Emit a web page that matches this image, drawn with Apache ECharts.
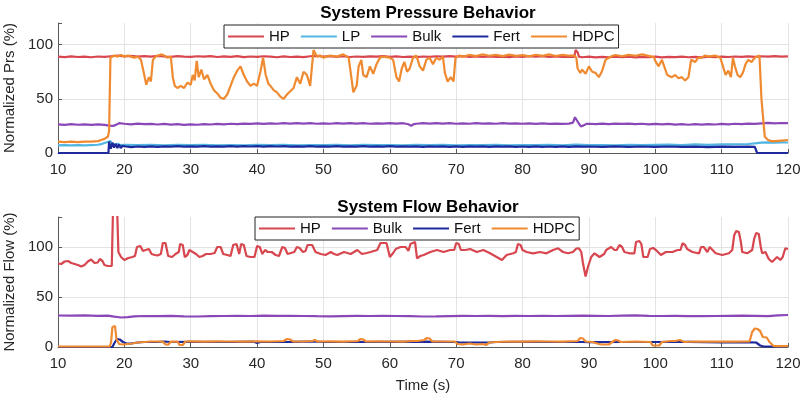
<!DOCTYPE html>
<html>
<head>
<meta charset="utf-8">
<script src="https://cdn.jsdelivr.net/npm/echarts@6/dist/echarts.min.js"></script>
<style>
  html, body { margin: 0; padding: 0; background: #ffffff; }
  #main { width: 800px; height: 398px; }
</style>
</head>
<body>
<div id="main"></div>
<script>
// legend names (same order as the reference)
var prsNames = ['HP', 'LP', 'Bulk', 'Fert', 'HDPC']
var flowNames = ['HP', 'Bulk', 'Fert', 'HDPC']
var timeTicks = [10, 20, 30, 40, 50, 60, 70, 80, 90, 100, 110, 120]

// ---- pressure, [time s, normalized %] ----
var hpPrs = [[10,89],[11,88.5],[12,89.2],[13,88.6],[14,89],[15,88.4],[16,89.1],[17,88.7],[18,89.3],[19,89.8],[20,89.2],[21,89.6],[22,88.9],[23,89.4],[24,89],[25,89.7],[26,89.1],[27,88.8],[28,89.5],[29,89],[30,88.7],[31,89.3],[32,88.9],[33,89.5],[34,88.6],[35,89.2],[36,88.8],[37,89.4],[38,88.5],[39,89.1],[40,88.7],[41,89.3],[42,88.9],[43,88.4],[44,89.2],[45,88.6],[46,89],[47,88.5],[48,89.3],[49,89.6],[50,89],[51,89.4],[52,88.8],[53,89.3],[54,88.6],[55,89.1],[56,88.7],[57,89.2],[58,88.9],[59,89.5],[60,88.8],[61,89.2],[62,88.6],[63,89],[64,88.5],[65,89.1],[66,88.7],[67,89.3],[68,88.9],[69,89.4],[70,89],[71,89.5],[72,88.8],[73,89.2],[74,88.7],[75,89.1],[76,88.6],[77,89],[78,88.5],[79,89.2],[80,88.8],[81,89.3],[82,88.9],[83,89.4],[84,88.7],[85,89.1],[86,88.6],[87,89],[87.8,88.8],[88,95],[88.3,93],[88.5,89],[89,88.4],[90,88.9],[91,88.3],[92,88.8],[93,88.4],[94,89],[95,88.5],[96,88.9],[97,88.3],[98,88.8],[99,88.4],[100,88.9],[101,88.3],[102,88.8],[103,88.5],[104,89],[105,88.4],[106,88.8],[107,88.3],[108,88.9],[109,88.5],[110,89],[111,88.6],[112,89.1],[113,88.7],[114,89.2],[115,88.8],[116,89.3],[117,88.9],[118,89.4],[119,89],[120,89.2]]
var lpPrs = [[10,7],[11,7.3],[12,7],[13,7.2],[14,7],[15,7.3],[16,7.6],[16.5,8.2],[17,9.2],[17.5,10.2],[17.9,11],[18.2,8.5],[18.6,7.5],[19,8.5],[19.5,7.2],[20,7.5],[22,7.2],[24,7.6],[26,7.1],[28,7.5],[30,7.2],[32,7.6],[34,7.1],[36,7.4],[38,7],[40,7.5],[42,7.2],[44,7.6],[46,7.1],[48,7.4],[50,7.2],[52,7.6],[54,7.1],[56,7.5],[58,7.2],[60,7.4],[62,7],[64,7.5],[66,7.2],[68,7.6],[70,7.1],[72,7.4],[74,7.2],[76,7.5],[78,7.1],[80,7.4],[82,7.2],[84,7.6],[86,7.1],[88,7.8],[90,7.2],[92,7.4],[94,7.1],[96,7.6],[98,7.2],[100,7.5],[102,7.8],[104,7.4],[106,7.9],[108,7.5],[110,7.9],[112,8],[114,8.3],[115,8.8],[116,9.5],[117,9.8],[118,9.6],[119,9.8],[120,9.7]]
var bulkPrs = [[10,26.5],[11,26],[12,26.6],[13,26.1],[14,26.5],[15,25.9],[16,26.4],[17,26],[17.7,25.2],[18.3,25],[18.8,26.2],[19.2,27.5],[20,27],[21,26.5],[22,27.2],[23,26.6],[24,26.9],[25,26.3],[26,26.8],[27,26.2],[28,26.6],[29,26],[30,26.5],[31,26.1],[32,26.7],[33,26.3],[34,26.9],[35,26.5],[36,27],[37,26.6],[38,27.2],[39,26.8],[40,27.3],[41,26.9],[42,27.4],[43,27],[44,27.5],[45,27.1],[46,27.6],[47,27.2],[48,27.5],[49,27],[50,27.4],[51,27],[52,27.5],[53,27.1],[54,27.6],[55,27.2],[56,27.5],[57,27],[58,27.4],[59,27.1],[60,27.6],[61,27.2],[62,27.5],[62.8,26.5],[63.2,25.2],[63.6,26.6],[64,27],[65,27.5],[66,27.1],[67,27.6],[68,27.2],[69,27.5],[70,27],[71,27.4],[72,27],[73,27.5],[74,27.1],[75,27.4],[76,27],[77,27.5],[78,27.1],[79,27.4],[80,27],[81,27.3],[82,26.9],[83,27.3],[84,26.9],[85,27.2],[86,26.8],[87,27.1],[87.6,28],[87.9,33],[88.2,32],[88.5,27],[88.8,24.5],[89.2,25.5],[89.6,26.8],[90,27],[91,26.6],[92,27.1],[93,26.7],[94,27.2],[95,26.8],[96,27.1],[97,26.6],[98,27],[99,26.5],[100,26.9],[101,26.4],[102,26.8],[103,26.2],[104,26.6],[105,26.1],[106,26.6],[107,26.2],[108,26.7],[109,26.3],[110,26.9],[111,26.5],[112,27],[113,26.6],[114,27.1],[115,26.8],[116,27.4],[117,27.8],[118,27.4],[119,27.7],[120,27.5]]
var fertPrs = [[10,0],[17.6,0],[17.7,10.5],[17.95,4],[18.2,9.5],[18.45,5],[18.7,8.5],[18.95,4.5],[19.2,8],[19.45,4.5],[19.7,6.5],[20,5],[20.5,5.8],[21,5.5],[22,6],[23,5.6],[24,6.1],[25,5.7],[26,6.2],[27,5.8],[28,6.3],[29,5.9],[30,6.2],[31,5.8],[32,6.3],[33,5.9],[34,6.2],[35,5.8],[36,6.3],[37,5.9],[38,6.4],[39,6],[40,6.3],[41,5.9],[42,6.4],[43,6],[44,6.3],[45,5.9],[46,6.2],[47,5.8],[48,6.3],[49,5.9],[50,6.2],[51,5.8],[52,6.3],[53,5.9],[54,6.2],[55,5.8],[56,6.3],[57,5.9],[58,6.2],[59,5.8],[60,6.3],[61,5.9],[62,6.2],[63,5.8],[64,6.1],[65,5.7],[66,6.2],[67,5.8],[68,6.1],[69,5.7],[70,6.1],[71,5.7],[72,6.2],[73,5.8],[74,6.1],[75,5.7],[76,6.2],[77,5.8],[78,6.1],[79,5.7],[80,6],[81,5.6],[82,6.1],[83,5.7],[84,6],[85,5.6],[86,6.1],[87,5.7],[88,6.2],[89,5.8],[90,6],[92,5.7],[94,6.1],[96,5.7],[98,6],[100,5.6],[102,6],[104,5.6],[106,5.9],[108,5.5],[110,5.9],[112,5.6],[114,5.9],[115,5.7],[115.25,5.5],[115.35,0],[120,0]]
var hdpcPrs = [[10,10.5],[11,10],[12,10.5],[13,10],[14,10.5],[15,10.5],[16,11],[16.5,12],[17,13],[17.5,15],[17.7,20],[17.9,88],[18.5,90],[19,89],[19.5,90.5],[20,89],[20.5,90],[21,89],[21.5,88],[22,89],[22.5,86],[23,72],[23.3,63],[23.7,70],[24,66],[24.3,86],[24.7,89],[25,88],[25.5,91],[26,90],[26.5,88],[27,89],[27.3,70],[27.6,62],[28,60],[28.5,62],[29,60],[29.5,65],[30,63],[30.3,72],[30.6,67],[30.9,85],[31.2,70],[31.6,77],[32,68],[32.5,72],[33,64],[33.5,58],[34,55],[34.5,51],[35,50],[35.5,54],[36,62],[36.5,70],[37,76],[37.5,80],[38,72],[38.5,66],[39,62],[39.5,64],[40,62],[40.5,75],[40.9,88],[41.3,72],[41.7,64],[42,62],[42.5,58],[43,56],[43.5,52],[44,50],[44.5,54],[45,57],[45.5,60],[46,70],[46.5,64],[47,75],[47.5,72],[48,62],[48.5,95],[49,89],[49.5,90],[50,88],[51,90],[52,89],[53,91],[53.8,88],[54.2,70],[54.5,56],[55,62],[55.3,80],[55.7,86],[56,72],[56.5,70],[57,80],[57.5,73],[58,82],[58.5,88],[59,89],[60,88],[60.5,86],[61,70],[61.4,66],[61.8,78],[62.2,84],[62.6,75],[63,78],[63.5,88],[64,90],[64.5,80],[65,76],[65.5,86],[66,88],[66.5,82],[67,88],[67.5,86],[68,89],[68.3,74],[68.7,66],[69.2,70],[69.6,66],[69.9,88],[70.5,90],[71,89],[72,90.5],[73,89.5],[74,91],[75,89.8],[76,90.6],[77,89.4],[78,90.8],[79,89.6],[80,90.4],[81,89.2],[82,90.7],[83,89.7],[84,91],[85,89.5],[86,90.6],[87,89.8],[87.8,90],[88.1,88],[88.3,78],[88.7,74],[89,77],[89.5,73],[90,80],[90.5,75],[91,74],[91.5,70],[92,76],[92.5,86],[93,88],[93.5,89.5],[94,90.5],[95,89.3],[96,90.6],[97,89.8],[98,91],[99,89.6],[99.8,88.5],[100,85],[100.5,80],[101,86],[101.4,79],[101.8,72],[102.5,70],[103,72],[103.5,69],[104,70],[104.5,67],[105,70],[105.4,86],[106,84],[106.5,88],[107,88],[107.5,90],[108,89],[109,90],[109.8,88],[110.2,80],[110.6,72],[111,76],[111.4,70],[111.7,88],[112,80],[112.4,72],[112.8,70],[113.2,74],[113.6,82],[114,86],[114.5,84],[115,88],[115.7,90],[116,50],[116.5,15],[117,12],[117.5,11],[118,11],[119,11.5],[120,12]]

// ---- flow, [time s, normalized %] ----
var hpFlow = [[10,83.5],[10.5,83],[11,85.5],[11.5,86],[12,84],[12.5,83],[13,82],[13.5,80.5],[14,82],[14.5,85.5],[15,87.5],[15.5,84],[16,84.5],[16.3,88],[16.7,86],[17,82],[17.5,81],[18.1,81],[18.3,140],[18.9,140],[19.1,95],[19.5,90],[20,87],[20.6,89],[21.2,90],[21.6,91],[21.9,100],[22.4,101],[22.8,96],[23.2,97],[23.7,98],[24.1,93],[24.6,92],[25,91.5],[25.5,93],[25.8,104],[26.2,104],[26.6,91],[27.2,90],[27.7,93],[28.2,95],[28.4,103],[28.8,102],[29.1,90],[29.5,92],[29.8,97],[30.3,95],[30.8,93],[31.3,90],[31.8,91],[32.3,93],[33,93],[33.6,94],[34,100],[34.5,100],[34.9,93],[35.5,92],[36,91],[36.4,102],[36.9,103],[37.3,93],[37.6,103],[38,102],[38.4,91],[39,90],[39.6,90],[40,101],[40.4,100],[40.8,93],[41.2,97],[41.6,95],[42.2,95],[42.8,92],[43.3,91],[43.8,100],[44.2,99],[44.6,93],[45.1,94],[45.6,95],[46,100],[46.4,99],[46.9,95],[47.3,96],[47.6,102],[48.3,102],[48.8,95],[49.6,93],[50.3,92],[51.1,95],[51.6,93],[52.1,92],[53.1,95],[54.1,93],[55.1,97],[55.8,93],[56.5,94],[57.1,95],[58.1,97],[58.6,104],[59.5,104],[60,90],[60.5,94],[60.9,98],[61.6,100],[62.4,100],[62.8,96],[63.1,103],[63.8,105],[64.1,88.7],[64.6,91],[65.1,92],[66.1,95],[67.1,97],[68.1,95],[69.1,97],[69.7,97],[70,104],[70.4,103],[70.7,97],[71.4,97],[72.1,98],[73.1,95],[74.1,97],[75.1,93.7],[76.1,90],[76.9,87],[77.6,92],[78.6,93.7],[79,95],[79.3,103],[79.7,102],[80,97],[80.6,95],[81.6,93.7],[82.6,95],[83.6,93.7],[84.6,97],[85.35,98.7],[86.1,95],[86.85,93.7],[87.6,95],[88.1,98.5],[88.5,98.7],[88.85,95],[89.1,84],[89.5,70.5],[89.85,80],[90.35,90],[90.85,93.7],[91.6,90],[92.3,93],[92.6,97],[93.35,100],[93.85,97],[94.2,97],[94.6,102],[95,100],[95.35,95],[96.1,93.7],[96.85,93.7],[97.1,105],[97.6,106],[97.9,103],[98.2,90],[98.85,90],[99.2,98],[99.7,99],[100.1,97],[100.85,92],[101.6,95],[102.6,95],[103.35,97],[103.8,97],[104.1,103.7],[104.5,102],[104.8,98],[105.6,95],[106.6,93.7],[106.9,100],[107.3,100],[107.85,95],[108.2,100],[108.5,100],[109.1,93.7],[110.1,92],[111.1,93.7],[111.6,97],[111.9,112],[112.2,116],[112.6,115],[112.9,105],[113.1,95],[113.85,93.7],[114.6,97],[114.9,108],[115.2,114],[115.6,113],[115.9,100],[116.1,93.7],[116.6,95],[117.1,88],[117.6,85],[117.9,85],[118.35,90],[118.85,87],[119.2,90],[119.6,98.7],[120,98]]
var bulkFlow = [[10,31.5],[12,31.3],[14,31.6],[16,31.2],[17.5,31.4],[18.5,30.3],[19.5,29.5],[20.5,29.8],[21.5,30.6],[23,31],[25,30.8],[27,31.1],[29,30.7],[31,30.5],[33,30.9],[35,31],[37,31.2],[39,31],[41,31.3],[43,31.1],[45,31.2],[47,31],[49,30.8],[51,30.7],[53,30.9],[55,31.1],[57,31],[59,31.2],[61,31],[63,30.8],[65,30.5],[67,30.6],[69,30.9],[71,31.2],[73,31],[75,31.1],[77,30.9],[79,31.2],[81,31],[83,31.1],[85,31],[87,31.2],[89,31.4],[91,31.2],[93,31],[95,31.3],[97,31.6],[99,31.2],[101,31],[103,31.1],[105,30.9],[107,30.8],[109,31],[111,31.2],[113,31.4],[115,31.1],[117,30.8],[118.5,31.6],[120,32]]
var fertFlow = [[10,0],[18.2,0],[18.5,4],[18.9,8],[19.3,7.5],[19.8,5],[20.3,3.5],[21,3.5],[22,4.5],[23,5],[25,5],[26,5.5],[27,5],[30,5.2],[35,5],[39.5,5.3],[40,4],[40.5,5],[45,5.2],[48.5,5.5],[50,5],[55,5],[60,5.2],[65,5.3],[70,5],[70.5,4.5],[75,4.5],[76,5],[80,5.2],[85,5],[89,5],[90,4.8],[95,5],[100,5],[105,5.2],[110,4.5],[114.6,4.7],[115.2,4.5],[115.8,1.5],[116.3,0.5],[120,0.5]]
var hdpcFlow = [[10,0.5],[17.8,0.5],[18,5],[18.2,20],[18.4,22],[18.6,21],[18.8,8],[19.2,3],[19.8,2.5],[20.5,3],[21.2,3.5],[22,4.5],[23,5],[24,5.5],[25,5.5],[25.8,5.3],[26.2,2.5],[26.6,2.3],[27,5.3],[28,5.5],[28.3,2],[28.8,2],[29.2,5.5],[30,5.6],[32,5.4],[34,5.6],[36,5.5],[38,5.4],[40,5.6],[42,5.5],[44,6],[44.5,8],[45,7.5],[45.4,5.6],[47,5.5],[48.3,6],[48.7,7],[49.1,5.5],[51,5.6],[53,5.4],[55.2,6],[55.6,8],[56,7.5],[56.4,5.5],[58,5.6],[60,5.5],[62,5.4],[63.5,6],[63.8,7.5],[64.2,6],[65.2,7],[65.6,9],[66,8.5],[66.4,5.5],[68,5.5],[69.8,5.5],[70.2,3],[71,2.5],[72,3.5],[73,2.5],[74,3],[74.5,2],[75,4.5],[76,5],[78,5.5],[80,5.4],[82,5.6],[84,5.5],[86,5.3],[88.3,6],[88.7,9],[89.1,8.5],[89.5,5.5],[90.5,5],[91.5,3],[92,2.5],[93,2.5],[93.5,5],[94,7],[94.4,6.5],[94.8,5],[97,5.5],[99.3,5],[99.6,1.5],[100.6,1.5],[101,5],[102.3,6],[102.6,7.5],[103,6],[103.7,7],[104,7],[104.4,5],[106,5.5],[108,5.4],[110,5.5],[112,5.3],[114.2,5.5],[114.6,15],[115,18.5],[115.4,18],[115.8,16],[116.2,10],[116.8,9.5],[117.2,5],[117.8,1.2],[118.5,0.8],[120,0.8]]

var colors = { HP: '#d8464f', LP: '#52b5e2', Bulk: '#8a47b8', Fert: '#1e2a9c', HDPC: '#ef8a30' }
var font = 'Liberation Sans, Arial, Helvetica, sans-serif'

function lineSeries (name, data, xi) {
  return {
    name: name,
    type: 'line',
    xAxisIndex: xi,
    yAxisIndex: xi,
    data: data,
    symbol: 'none',
    clip: true,
    lineStyle: { color: colors[name], width: 2.2 },
    itemStyle: { color: colors[name] },
    emphasis: { disabled: true }
  }
}

function xAxisOf (idx, withName) {
  return {
    type: 'value',
    gridIndex: idx,
    min: 10,
    max: 120,
    interval: 10,
    name: withName ? 'Time (s)' : '',
    nameLocation: 'middle',
    nameGap: 31,
    nameTextStyle: { fontSize: 15, color: '#262626', fontFamily: font },
    axisLine: { lineStyle: { color: '#5a5a5a', width: 1 } },
    axisTick: { inside: true, length: 4, lineStyle: { color: '#5a5a5a' } },
    axisLabel: {
      fontSize: 15,
      color: '#262626',
      fontFamily: font,
      margin: 9,
      formatter: function (v) { return timeTicks.indexOf(v) >= 0 ? String(v) : '' }
    },
    splitLine: { show: true, lineStyle: { color: '#e3e3e3', width: 1 } }
  }
}

function yAxisOf (idx, name, max) {
  return {
    type: 'value',
    gridIndex: idx,
    min: 0,
    max: max,
    interval: 50,
    name: name,
    nameLocation: 'middle',
    nameGap: 31,
    nameTextStyle: { fontSize: 15, color: '#262626', fontFamily: font },
    axisLine: { show: true, lineStyle: { color: '#5a5a5a', width: 1 } },
    axisTick: { show: true, inside: true, length: 4, lineStyle: { color: '#5a5a5a' } },
    axisLabel: {
      fontSize: 15,
      color: '#262626',
      fontFamily: font,
      margin: 5,
      formatter: function (v) { return v % 50 === 0 ? String(v) : '' }
    },
    splitLine: { show: true, showMaxLine: false, lineStyle: { color: '#e3e3e3', width: 1 } }
  }
}

function legendOf (idx, names, left, top) {
  return {
    data: names,
    left: left,
    top: top,
    orient: 'horizontal',
    icon: 'rect',
    itemWidth: 36,
    itemHeight: 2,
    itemGap: 11,
    padding: [3, 4],
    borderColor: '#222222',
    borderWidth: 1,
    backgroundColor: '#ffffff',
    textStyle: { fontSize: 15, color: '#111111', fontFamily: font, lineHeight: 17 },
    selectedMode: false
  }
}

var myChart = echarts.init(document.getElementById('main'))
var series = []
series.push(lineSeries('HP', hpPrs, 0))
series.push(lineSeries('LP', lpPrs, 0))
series.push(lineSeries('Bulk', bulkPrs, 0))
series.push(lineSeries('Fert', fertPrs, 0))
series.push(lineSeries('HDPC', hdpcPrs, 0))
series.push(lineSeries('HP', hpFlow, 1))
series.push(lineSeries('Bulk', bulkFlow, 1))
series.push(lineSeries('Fert', fertFlow, 1))
series.push(lineSeries('HDPC', hdpcFlow, 1))

myChart.setOption({
  animation: false,
  backgroundColor: '#ffffff',
  title: [
    {
      text: 'System Pressure Behavior',
      left: 423,
      top: 0,
      textAlign: 'center',
      textStyle: { fontSize: 17, fontWeight: 'bold', color: '#000000', fontFamily: font }
    },
    {
      text: 'System Flow Behavior',
      left: 423,
      top: 194,
      textAlign: 'center',
      textStyle: { fontSize: 17, fontWeight: 'bold', color: '#000000', fontFamily: font }
    }
  ],
  legend: [
    legendOf(0, prsNames, 224, 25),
    legendOf(1, flowNames, 255, 217)
  ],
  grid: [
    { left: 58, right: 12, top: 23, height: 130, outerBoundsMode: 'none' },
    { left: 58, right: 12, top: 217, height: 130, outerBoundsMode: 'none' }
  ],
  xAxis: [xAxisOf(0, false), xAxisOf(1, true)],
  yAxis: [yAxisOf(0, 'Normalized Prs (%)', 120), yAxisOf(1, 'Normalized Flow (%)', 130)],
  series: series
})
</script>
</body>
</html>
